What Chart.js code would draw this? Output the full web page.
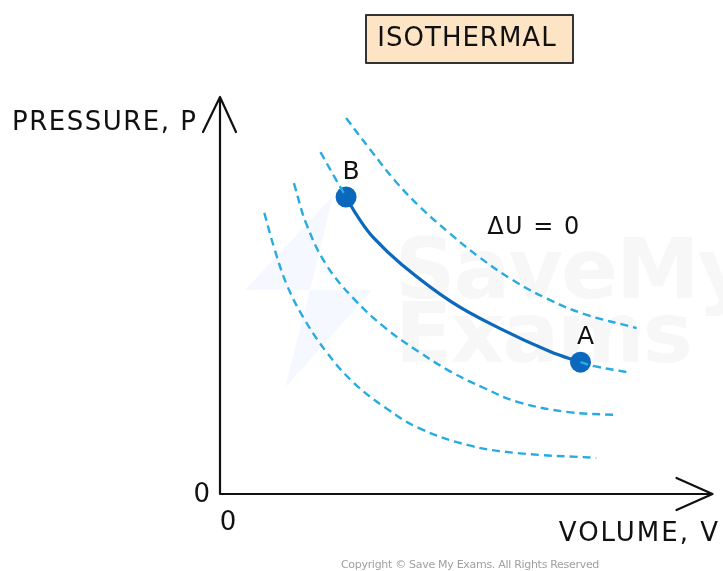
<!DOCTYPE html>
<html>
<head>
<meta charset="utf-8">
<script src="https://cdn.jsdelivr.net/npm/chart.js@4"></script>
<style>
  html, body { margin: 0; padding: 0; background: #ffffff; }
  #wrap { width: 723px; height: 571px; position: relative; }
</style>
</head>
<body>
<div id="wrap"><canvas id="isoChart" width="723" height="571"></canvas></div>
<script>
// Isotherm curves (volume, pressure in arbitrary units 0-100)
const curve1V = [9.0, 11.0, 13.6, 17.0, 21.6, 27.0, 33.6, 40.4, 50.4, 60.4, 76.4];
const curve1P = [70.8, 62.0, 52.6, 44.3, 35.8, 28.2, 21.7, 16.6, 12.3, 10.3, 9.1];

const curve2V = [15.0, 17.6, 21.6, 27.0, 33.6, 40.4, 47.0, 53.6, 60.4, 70.4, 80.4];
const curve2P = [78.3, 67.8, 57.7, 49.4, 41.8, 35.8, 30.7, 26.7, 23.2, 20.7, 19.9];

// third isotherm: visible parts above B and beyond A
const curve3TopV = [20.4, 23.0, 25.6];
const curve3TopP = [86.1, 80.4, 74.8];
const curve3TailV = [73.2, 76.0, 82.6];
const curve3TailP = [33.2, 32.2, 30.7];

const curve4V = [25.6, 30.6, 35.4, 40.6, 46.6, 52.6, 59.4, 66.6, 74.0, 84.6];
const curve4P = [94.7, 86.6, 79.1, 72.3, 65.7, 59.7, 53.9, 49.1, 45.3, 41.8];

// Process B -> A along the isotherm
const processV = [25.6, 28.0, 31.2, 37.0, 47.0, 57.0, 67.0, 73.2];
const processP = [74.8, 69.8, 64.5, 57.7, 48.4, 41.6, 35.9, 33.2];

const stateLabels = ['B', 'A'];
const stateV = [25.6, 73.2];
const stateP = [74.8, 33.2];

const FONT = '"DejaVu Sans", sans-serif';
const dashColor = '#29abe2';
const solidColor = '#0b68bd';

function toPoints(xs, ys) {
  return xs.map((x, i) => ({ x: x, y: ys[i] }));
}

function dashed(xs, ys) {
  return {
    data: toPoints(xs, ys),
    borderColor: dashColor,
    borderWidth: 2.4,
    borderDash: [8, 5],
    pointRadius: 0,
    tension: 0.4,
    fill: false
  };
}

function drawText(ctx, text, x, y, size, spacing, weight) {
  ctx.font = (weight || 'normal') + ' ' + size + 'px ' + FONT;
  ctx.letterSpacing = spacing + 'px';
  ctx.fillText(text, x, y);
}

// Faint watermark behind the curves
const watermarkPlugin = {
  id: 'watermark',
  beforeDatasetsDraw(chart) {
    const ctx = chart.ctx;
    ctx.save();
    ctx.fillStyle = '#f5f8fe';
    ctx.beginPath();
    ctx.moveTo(333, 196);
    ctx.lineTo(245, 290);
    ctx.lineTo(310, 290);
    ctx.lineTo(285, 388);
    ctx.lineTo(372, 290);
    ctx.lineTo(310, 290);
    ctx.closePath();
    ctx.fill();
    ctx.fillStyle = '#f7f7f7';
    ctx.textAlign = 'left';
    ctx.textBaseline = 'alphabetic';
    drawText(ctx, 'SaveMy', 395, 298, 84, -2, 'bold');
    drawText(ctx, 'Exams', 395, 362, 84, -2, 'bold');
    ctx.restore();
  }
};

// Axes with open arrowheads, labels and annotations
const diagramPlugin = {
  id: 'diagram',
  afterDatasetsDraw(chart) {
    const ctx = chart.ctx;
    const xs = chart.scales.x;
    const ys = chart.scales.y;
    const x0 = xs.getPixelForValue(0);
    const y0 = ys.getPixelForValue(0);
    const xEnd = chart.chartArea.right;
    const yEnd = chart.chartArea.top;

    ctx.save();
    ctx.strokeStyle = '#111111';
    ctx.lineWidth = 2.2;
    ctx.lineCap = 'round';
    ctx.lineJoin = 'round';
    ctx.beginPath();
    ctx.moveTo(x0, y0);
    ctx.lineTo(x0, yEnd);
    ctx.moveTo(x0 - 17, yEnd + 35);
    ctx.lineTo(x0, yEnd);
    ctx.lineTo(x0 + 16, yEnd + 35);
    ctx.moveTo(x0, y0);
    ctx.lineTo(xEnd, y0);
    ctx.moveTo(xEnd - 36, y0 - 16);
    ctx.lineTo(xEnd, y0);
    ctx.lineTo(xEnd - 36, y0 + 16);
    ctx.stroke();

    ctx.fillStyle = '#111111';
    ctx.textBaseline = 'middle';
    ctx.textAlign = 'left';
    drawText(ctx, 'PRESSURE, P', 12, 123, 26, 1.5);
    ctx.textAlign = 'right';
    drawText(ctx, 'VOLUME, V', 720, 534, 26, 2);
    drawText(ctx, '0', 210, 495, 26, 0);
    ctx.textAlign = 'center';
    drawText(ctx, '0', 228, 523, 26, 0);

    drawText(ctx, '\u0394U = 0', 534, 228, 24, 1.5);

    // state labels
    stateLabels.forEach((lab, i) => {
      const px = xs.getPixelForValue(stateV[i]);
      const py = ys.getPixelForValue(stateP[i]);
      drawText(ctx, lab, px + 5, py - 25, 25, 0);
    });

    // title box
    ctx.fillStyle = '#fde4c4';
    ctx.fillRect(366, 15, 207, 48);
    ctx.strokeStyle = '#333333';
    ctx.lineWidth = 2;
    ctx.strokeRect(366, 15, 207, 48);
    ctx.fillStyle = '#111111';
    drawText(ctx, 'ISOTHERMAL', 467, 39, 26, 1);

    ctx.fillStyle = '#a0a0a0';
    drawText(ctx, 'Copyright \u00a9 Save My Exams. All Rights Reserved', 470, 565, 11, -0.3);
    ctx.restore();
  }
};

new Chart(document.getElementById('isoChart'), {
  type: 'line',
  data: {
    datasets: [
      dashed(curve1V, curve1P),
      dashed(curve2V, curve2P),
      dashed(curve3TopV, curve3TopP),
      dashed(curve3TailV, curve3TailP),
      dashed(curve4V, curve4P),
      {
        data: toPoints(processV, processP),
        borderColor: solidColor,
        borderWidth: 3.2,
        pointRadius: 0,
        tension: 0.4,
        fill: false
      },
      {
        data: toPoints(stateV, stateP),
        showLine: false,
        pointRadius: 10.5,
        pointBackgroundColor: solidColor,
        pointBorderColor: solidColor,
        pointBorderWidth: 0
      }
    ]
  },
  options: {
    responsive: false,
    animation: false,
    devicePixelRatio: 1,
    layout: { padding: { left: 220, right: 3, top: 97, bottom: 77 } },
    plugins: {
      legend: { display: false },
      tooltip: { enabled: false },
      title: { display: false }
    },
    scales: {
      x: { type: 'linear', min: 0, max: 100, display: false },
      y: { type: 'linear', min: 0, max: 100, display: false }
    }
  },
  plugins: [watermarkPlugin, diagramPlugin]
});
</script>
</body>
</html>
